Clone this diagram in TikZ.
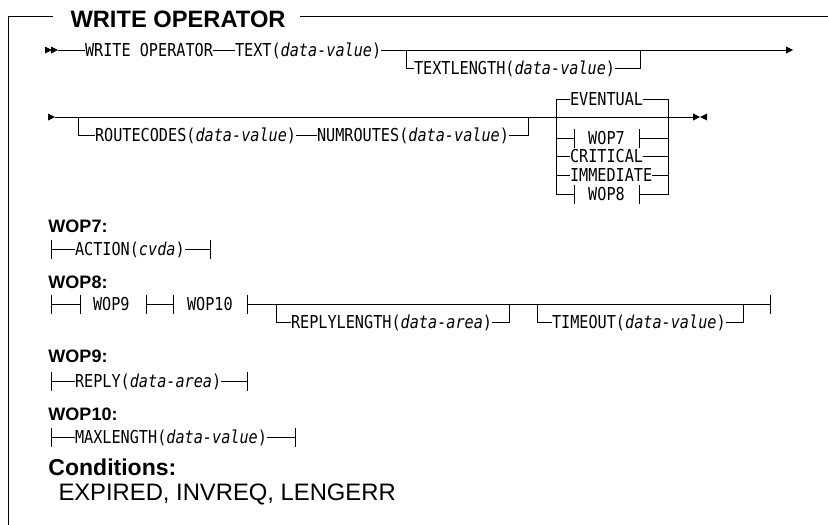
\documentclass[tikz,border=0pt]{standalone}
\usepackage{fontspec}
\setmainfont{Liberation Sans}
\setmonofont[FakeStretch=0.853]{DejaVu Sans Mono}
\newcommand\synfont{\ttfamily\fontsize{17.8}{20}\selectfont}
\newcommand\dval{\textit{data-value}}
\newcommand\darea{\textit{data-area}}
\begin{document}
\begin{tikzpicture}[x=1pt,y=-1pt,line width=1pt,
  syn/.style={font=\synfont,inner sep=0pt,outer sep=0pt,text height=12.98pt,text depth=0pt,anchor=west},
  head/.style={font=\bfseries\fontsize{18}{20}\selectfont,inner sep=0pt,anchor=base west},
  titlebox/.style={font=\bfseries\fontsize{23.7}{26}\selectfont,inner sep=0pt,anchor=base west},
  condhead/.style={font=\bfseries\fontsize{23}{26}\selectfont,inner sep=0pt,anchor=base west},
  condtext/.style={font=\fontsize{23.8}{26}\selectfont,inner sep=0pt,anchor=base west},
  tipR/.pic={\fill (-7,-3.5) -- (0,0) -- (-7,3.5) -- cycle;},
  tipL/.pic={\fill (7,-3.5) -- (0,0) -- (7,3.5) -- cycle;},
  tick/.pic={\draw (0,-9.5) -- (0,9.5);}
]
\useasboundingbox (0,0) rectangle (828,525);

% ---- frame and title
\node[titlebox] (title) at (70,27) {WRITE OPERATOR};
\coordinate (fbl) at (8,525);
\coordinate (ftl) at (8,16);
\coordinate (tga) at (53,16);
\coordinate (tgb) at (300,16);
\coordinate (ftr) at (828,16);
\draw (fbl) -- (ftl) -- (tga);
\draw (tgb) -- (ftr);

% ---- line 1
\pic at (52,50) {tipR};
\pic at (58,50) {tipR};
\coordinate (a1) at (58,50);
\node[syn] (wo) at (85,50) {WRITE OPERATOR};
\node[syn] (txt) at (235,50) {TEXT(\dval)};
\coordinate (j1) at (406,50);
\coordinate (j2) at (640,50);
\coordinate (e1) at (787,50);
\pic at (793,50) {tipR};
\node[syn] (tlen) at (414,68) {TEXTLENGTH(\dval)};
\draw (a1) -- (wo);
\draw (wo) -- (txt);
\draw (txt) -- (e1);
\draw (j1) |- (tlen);
\draw (tlen) -| (j2);

% ---- line 2
\pic at (55,117) {tipR};
\coordinate (a2) at (55,117);
\coordinate (j3) at (78,117);
\coordinate (j4) at (528,117);
\coordinate (e2) at (693,117);
\pic at (700,117) {tipR};
\pic at (700,117) {tipL};
\node[syn] (rc) at (95,135) {ROUTECODES(\dval)};
\node[syn] (nr) at (317,135) {NUMROUTES(\dval)};
\draw (a2) -- (e2);
\draw (j3) |- (rc);
\draw (rc) -- (nr);
\draw (nr) -| (j4);

% ---- choice block
\coordinate (clt) at (556,99);
\coordinate (clb) at (556,194);
\coordinate (crt) at (668,99);
\coordinate (crb) at (668,194);
\node[syn] (ev) at (570,99) {EVENTUAL};
\node[syn,anchor=center] (c7) at (606.5,138) {WOP7};
\node[syn] (cr) at (570,156) {CRITICAL};
\node[syn] (im) at (570,175) {IMMEDIATE};
\node[syn,anchor=center] (c8) at (606.5,194) {WOP8};
\coordinate (c7a) at (574,138);
\coordinate (c7b) at (639,138);
\coordinate (c8a) at (574,194);
\coordinate (c8b) at (639,194);
\pic at (c7a) {tick}; \pic at (c7b) {tick};
\pic at (c8a) {tick}; \pic at (c8b) {tick};
\draw (ev) -- (clt) -- (clb) -- (c8a);
\draw (ev) -- (crt) -- (crb) -- (c8b);
\draw (c7a) -- (c7a -| clt);
\draw (c7b) -- (c7b -| crt);
\draw (cr.west) -- (cr.west -| clt);
\draw (cr.east) -- (cr.east -| crt);
\draw (im.west) -- (im.west -| clt);
\draw (im.east) -- (im.east -| crt);

% ---- WOP7
\node[head] (h7) at (48,232) {WOP7:};
\coordinate (w7s) at (51,249);
\coordinate (w7e) at (210,249);
\pic at (w7s) {tick}; \pic at (w7e) {tick};
\node[syn] (act) at (75,249) {ACTION(\textit{cvda})};
\draw (w7s) -- (act);
\draw (act) -- (w7e);

% ---- WOP8
\node[head] (h8) at (48,288) {WOP8:};
\coordinate (t1) at (51,304);
\coordinate (t2) at (80,304);
\coordinate (t3) at (146,304);
\coordinate (t4) at (173,304);
\coordinate (t5) at (247,304);
\coordinate (e8) at (770,304);
\foreach \t in {t1,t2,t3,t4,t5,e8} {\pic at (\t) {tick};}
\node[syn] (r9) at (93,304) {WOP9};
\node[syn] (r10) at (187,304) {WOP10};
\draw (t1) -- (t2);
\draw (t3) -- (t4);
\draw (t5) -- (e8);
\coordinate (j5) at (276,304);
\coordinate (j6) at (509,304);
\coordinate (j7) at (537,304);
\coordinate (j8) at (743,304);
\node[syn] (rl) at (291,322) {REPLYLENGTH(\darea)};
\node[syn] (to) at (552,322) {TIMEOUT(\dval)};
\draw (j5) |- (rl);
\draw (rl) -| (j6);
\draw (j7) |- (to);
\draw (to) -| (j8);

% ---- WOP9
\node[head] (h9) at (48,362) {WOP9:};
\coordinate (w9s) at (51,381);
\coordinate (w9e) at (247,381);
\pic at (w9s) {tick}; \pic at (w9e) {tick};
\node[syn] (rep) at (75,381) {REPLY(\darea)};
\draw (w9s) -- (rep);
\draw (rep) -- (w9e);

% ---- WOP10
\node[head] (h10) at (48,420) {WOP10:};
\coordinate (w10s) at (51,437);
\coordinate (w10e) at (295,437);
\pic at (w10s) {tick}; \pic at (w10e) {tick};
\node[syn] (mx) at (75,437) {MAXLENGTH(\dval)};
\draw (w10s) -- (mx);
\draw (mx) -- (w10e);

% ---- conditions
\node[condhead] (ch) at (48,475) {Conditions:};
\node[condtext] (ct) at (58,500) {EXPIRED, INVREQ, LENGERR};
\end{tikzpicture}
\end{document}
